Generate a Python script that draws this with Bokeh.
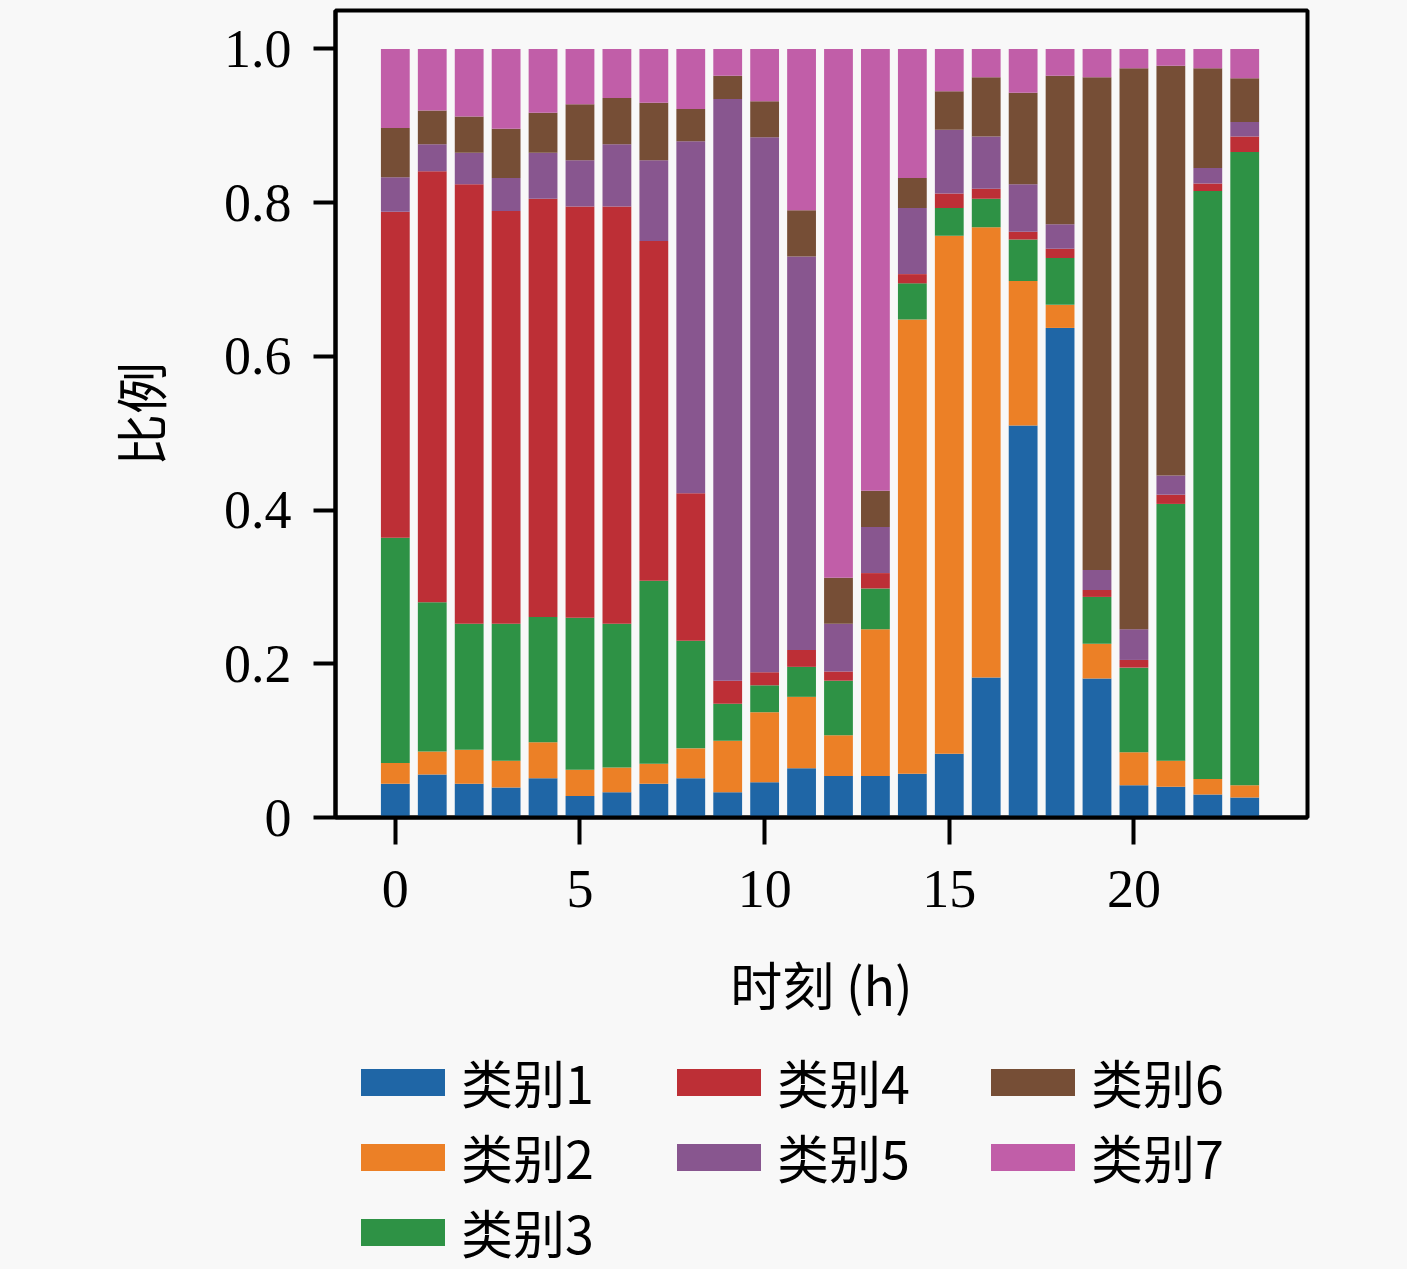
from bokeh.plotting import figure
from bokeh.layouts import column
from bokeh.models import ColumnDataSource, Legend, LegendItem, Range1d, FixedTicker
from bokeh.embed import file_html
from bokeh.resources import INLINE

hours = list(range(24))
cat1 = [0.044,0.056,0.044,0.039,0.051,0.028,0.033,0.044,0.051,0.033,0.046,0.064,0.054,0.054,0.057,0.083,0.182,0.510,0.637,0.181,0.042,0.040,0.030,0.026]
cat2 = [0.027,0.030,0.044,0.035,0.047,0.034,0.032,0.026,0.039,0.067,0.091,0.093,0.053,0.191,0.591,0.674,0.586,0.188,0.030,0.045,0.043,0.034,0.020,0.016]
cat3 = [0.293,0.194,0.164,0.178,0.163,0.198,0.187,0.238,0.140,0.048,0.035,0.039,0.071,0.053,0.047,0.036,0.037,0.054,0.061,0.061,0.110,0.334,0.765,0.824]
cat4 = [0.424,0.561,0.572,0.537,0.544,0.535,0.543,0.442,0.192,0.030,0.017,0.022,0.012,0.020,0.012,0.019,0.013,0.010,0.012,0.009,0.010,0.012,0.010,0.020]
cat5 = [0.045,0.035,0.041,0.043,0.060,0.060,0.081,0.105,0.458,0.757,0.696,0.512,0.062,0.060,0.086,0.083,0.068,0.062,0.032,0.026,0.040,0.025,0.020,0.019]
cat6 = [0.064,0.044,0.047,0.064,0.052,0.073,0.060,0.075,0.042,0.030,0.047,0.060,0.060,0.047,0.039,0.050,0.077,0.119,0.193,0.641,0.730,0.533,0.130,0.057]
cat7 = [0.103,0.080,0.088,0.104,0.083,0.072,0.064,0.070,0.078,0.035,0.068,0.210,0.688,0.575,0.168,0.055,0.037,0.057,0.035,0.037,0.025,0.022,0.025,0.038]

names = ["类别1", "类别2", "类别3", "类别4", "类别5", "类别6", "类别7"]
keys = ["c1", "c2", "c3", "c4", "c5", "c6", "c7"]
colors = ["#1f66a6", "#ec8026", "#2e9245", "#bd2f36", "#88568f", "#764e36", "#c15ea8"]
x_ticks = [0, 5, 10, 15, 20]
y_ticks = [0, 0.2, 0.4, 0.6, 0.8, 1.0]
y_tick_labels = ["0", "0.2", "0.4", "0.6", "0.8", "1.0"]

source = ColumnDataSource(dict(x=hours, c1=cat1, c2=cat2, c3=cat3, c4=cat4,
                               c5=cat5, c6=cat6, c7=cat7))

BG = "#f8f8f8"
p = figure(frame_width=972, frame_height=807, output_backend="svg",
           toolbar_location=None, x_range=Range1d(-1.62, 24.7),
           y_range=Range1d(0, 1.05), min_border_left=335, min_border_right=100,
           min_border_top=10, min_border_bottom=226)
p.background_fill_color = BG
p.border_fill_color = BG
p.outline_line_color = "black"
p.outline_line_width = 4
p.grid.visible = False

rs = p.vbar_stack(keys, x="x", width=0.78, color=colors, line_color=None,
                  source=source)

for ax in (p.xaxis[0], p.yaxis[0]):
    ax.axis_line_color = "black"
    ax.axis_line_width = 4
    ax.major_tick_line_width = 4
    ax.major_tick_in = 0
    ax.minor_tick_line_color = None
    ax.major_label_text_font = "Liberation Serif"
    ax.major_label_text_font_size = "54px"
    ax.major_label_text_color = "black"
    ax.axis_label_text_font = "Noto Sans CJK SC"
    ax.axis_label_text_font_size = "52px"
    ax.axis_label_text_font_style = "normal"
    ax.axis_label_text_color = "black"

p.xaxis.major_tick_out = 27
p.yaxis.major_tick_out = 22
p.xaxis.ticker = FixedTicker(ticks=x_ticks)
p.yaxis.ticker = FixedTicker(ticks=y_ticks)
p.yaxis.major_label_overrides = {t: l for t, l in zip(y_ticks, y_tick_labels)}
p.xaxis.major_label_standoff = 26
p.yaxis.major_label_standoff = 22
p.xaxis.axis_label = "时刻 (h)"
p.yaxis.axis_label = "比例"
p.xaxis.axis_label_standoff = 36
p.yaxis.axis_label_standoff = 44

# legend panel (separate figure below the chart, same frame alignment)
p2 = figure(frame_width=972, frame_height=226, output_backend="svg",
            toolbar_location=None, x_range=Range1d(0, 1), y_range=Range1d(0, 1),
            x_axis_location=None, y_axis_location=None,
            min_border_left=335, min_border_right=100,
            min_border_top=0, min_border_bottom=0)
p2.background_fill_color = BG
p2.border_fill_color = BG
p2.outline_line_color = None
p2.grid.visible = False

# legend swatches: one point each, placed outside the visible range
dummy = [p2.vbar(x=[-10], top=[-10], width=0.1, fill_color=c, line_color=None)
         for c in colors]

FL = 335
groups = [([0, 1, 2], (350 - FL, 0)), ([3, 4], (666 - FL, 75)), ([5, 6], (980 - FL, 75))]
for idx, loc in groups:
    lg = Legend(items=[LegendItem(label=names[i], renderers=[dummy[i]]) for i in idx],
                orientation="vertical", location=loc)
    lg.glyph_width = 105
    lg.glyph_height = 34
    lg.label_text_font = "Noto Sans CJK SC"
    lg.label_text_font_size = "52px"
    lg.label_text_color = "black"
    lg.label_standoff = 6
    lg.spacing = 0
    lg.padding = 0
    lg.margin = 0
    lg.border_line_color = None
    lg.background_fill_alpha = 0
    p2.add_layout(lg, "center")

layout = column(p, p2, spacing=0, styles={"background-color": BG})
open("out.html", "w").write(file_html(layout, INLINE))
